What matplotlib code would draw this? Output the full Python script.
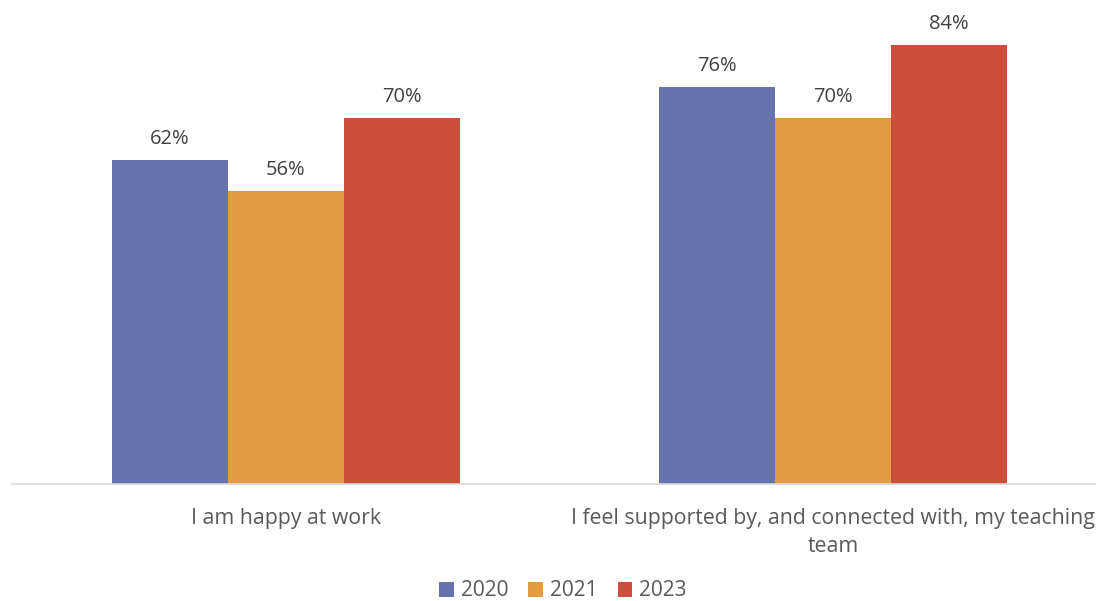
import numpy as np
import matplotlib.pyplot as plt
from matplotlib.patches import Patch

plt.rcParams['font.family'] = ['Open Sans', 'DejaVu Sans']

categories = ['I am happy at work',
              'I feel supported by, and connected with, my teaching\nteam']
years = ['2020', '2021', '2023']
values = {
    '2020': [62, 76],
    '2021': [56, 70],
    '2023': [70, 84],
}
colors = ['#6673AF', '#E49B42', '#CD4E3A']
text_color = '#595959'

fig = plt.figure(figsize=(10.96, 6.01), dpi=100)
ax = fig.add_axes([12 / 1096, 117 / 601, 1084 / 1096, 484 / 601])

x = np.arange(len(categories))
width = 0.212
for i, (year, color) in enumerate(zip(years, colors)):
    pos = x + (i - 1) * width
    bars = ax.bar(pos, values[year], width=width, color=color, zorder=2)
    for b, v in zip(bars, values[year]):
        ax.annotate(f'{v}%', (b.get_x() + b.get_width() / 2, v),
                    xytext=(0, 8), textcoords='offset points',
                    ha='center', va='bottom', fontsize=14.5, color='#404040')

ax.set_xlim(-0.5, 1.48)
ax.set_ylim(0, 92.6)
ax.set_yticks([])
ax.set_xticks(x)
ax.set_xticklabels(categories, fontsize=15.3, color=text_color, linespacing=1.42)
ax.tick_params(axis='x', length=0, pad=17.5)
for side in ['top', 'right', 'left']:
    ax.spines[side].set_visible(False)
ax.spines['bottom'].set_color('#D9D9D9')
ax.spines['bottom'].set_linewidth(1.2)

handles = [Patch(facecolor=c, label=y) for y, c in zip(years, colors)]
fig.legend(handles=handles, loc='center', bbox_to_anchor=(563 / 1096, 10 / 601),
           ncol=3, frameon=False, fontsize=15, labelcolor=text_color,
           handlelength=0.7, handleheight=0.7, handletextpad=0.35, columnspacing=0.95)

fig.savefig('out.png', dpi=100)
